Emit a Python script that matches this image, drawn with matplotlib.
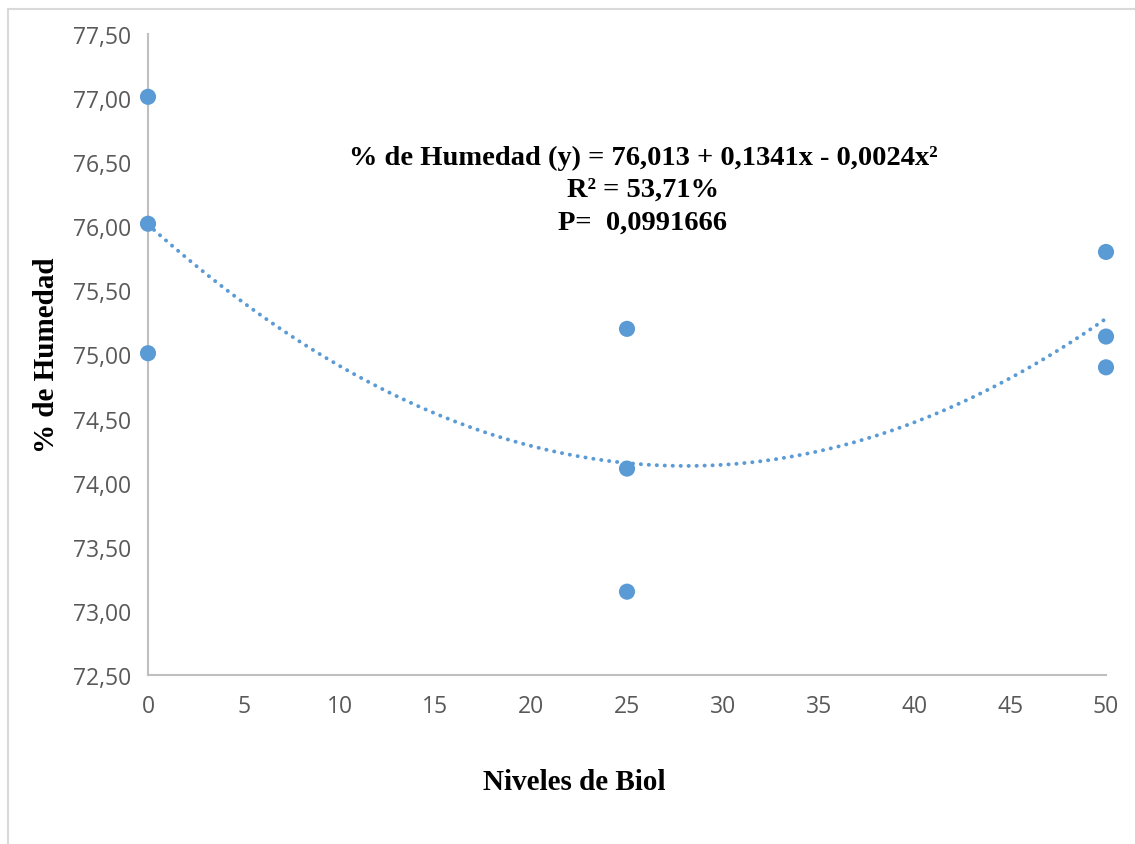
import numpy as np
import matplotlib
matplotlib.use("Agg")
import matplotlib.pyplot as plt
from matplotlib.patches import Rectangle

BLUE = "#5B9BD5"
AXIS = "#BFBFBF"
TICK = "#595959"

# Niveles de biol (x) y % de humedad medido (y)
niveles = [0, 0, 0, 25, 25, 25, 50, 50, 50]
humedad = [77.01, 76.02, 75.01, 75.20, 74.11, 73.15, 75.80, 75.14, 74.90]

x_ticks = [0, 5, 10, 15, 20, 25, 30, 35, 40, 45, 50]
y_ticks = [72.5, 73.0, 73.5, 74.0, 74.5, 75.0, 75.5, 76.0, 76.5, 77.0, 77.5]

eq_lines = ["% de Humedad (y) = 76,013 + 0,1341x - 0,0024x²",
            "R² = 53,71%",
            "P=  0,0991666"]

fig = plt.figure(figsize=(11.35, 8.45), dpi=100, facecolor="white")
ax = fig.add_axes([148/1135, 1 - 676/845, 958/1135, 641/845])

# outer frame of the chart area
fig.patches.append(Rectangle((8/1135, -0.1), 1.2, 1 - 10/845 + 0.1,
                             transform=fig.transFigure, fill=False,
                             edgecolor="#D9D9D9", linewidth=1.5))

# polynomial trend line (order 2)
coef = np.polyfit(niveles, humedad, 2)
xs = np.linspace(0, 50, 300)
ax.plot(xs, np.polyval(coef, xs), color=BLUE, lw=2.8,
        linestyle=(0, (0.05, 2.0)), dash_capstyle="round",
        solid_capstyle="round", zorder=2)

ax.scatter(niveles, humedad, s=135, color=BLUE, edgecolor="none",
           zorder=3, clip_on=False)

ax.set_xlim(0, 50)
ax.set_ylim(72.5, 77.5)
ax.set_xticks(x_ticks)
ax.set_yticks(y_ticks)
ax.set_yticklabels([f"{v:.2f}".replace(".", ",") for v in y_ticks])
ax.tick_params(length=0, labelsize=16.5, labelcolor=TICK)
ax.tick_params(axis="x", pad=14)
ax.tick_params(axis="y", pad=12)
for lab in ax.get_xticklabels() + ax.get_yticklabels():
    lab.set_fontfamily("Open Sans")

for s in ["top", "right"]:
    ax.spines[s].set_visible(False)
for s in ["left", "bottom"]:
    ax.spines[s].set_color(AXIS)
    ax.spines[s].set_linewidth(1.5)

serif = dict(family="Liberation Serif", fontweight="bold", color="black")
fig.text(574/1135, 1 - 783/845, "Niveles de Biol", ha="center", va="center",
         fontsize=21, **serif)
fig.text(47/1135, 1 - 355/845, "% de Humedad", ha="center", va="center",
         rotation=90, fontsize=21, **serif)

for i, line in enumerate(eq_lines):
    fig.text(643/1135, 1 - (158 + i*32.5)/845, line, ha="center",
             va="center", fontsize=20.5, **serif)

plt.savefig("out.png", dpi=100, facecolor="white")
